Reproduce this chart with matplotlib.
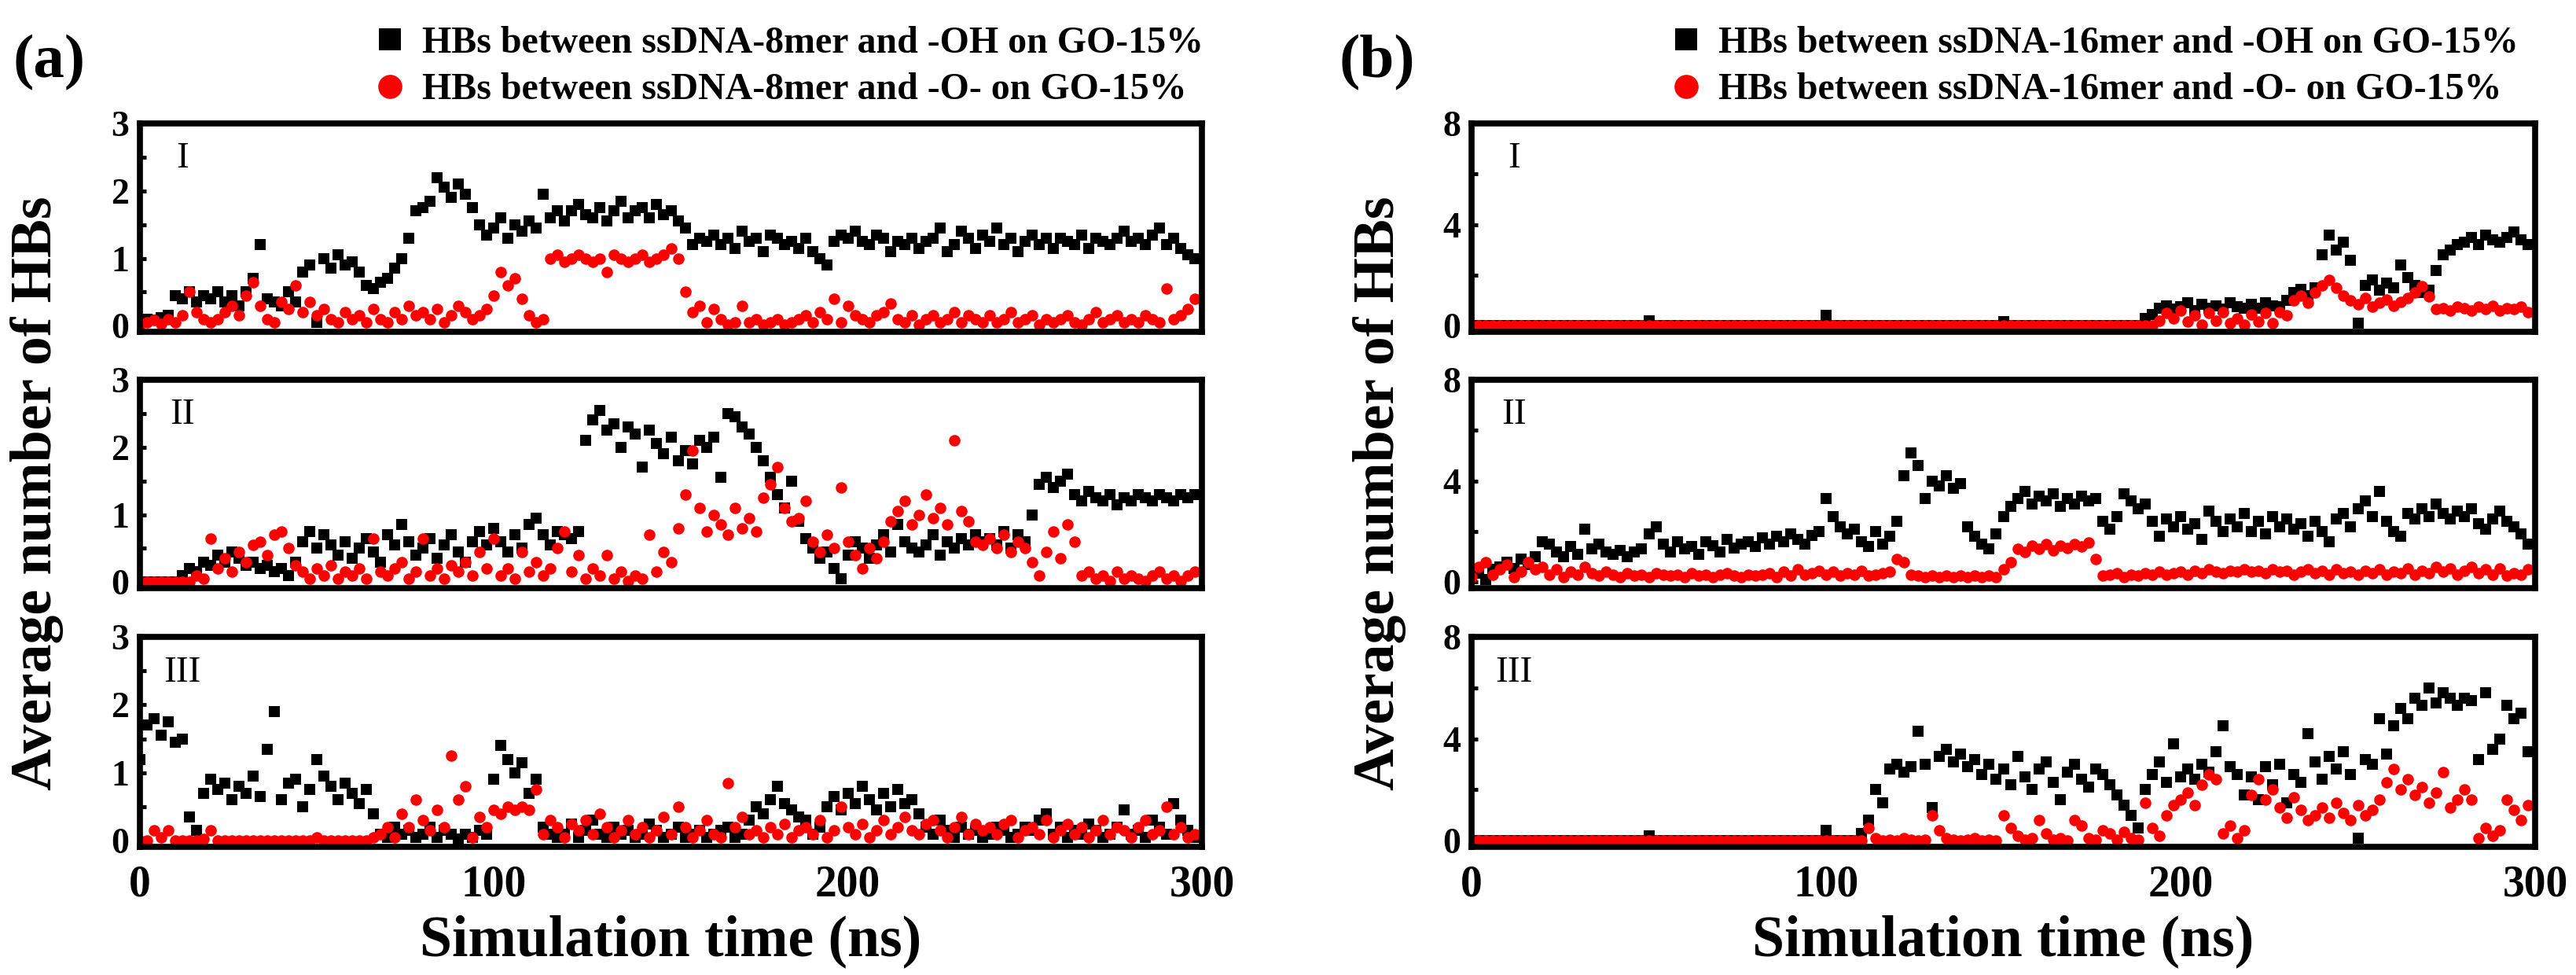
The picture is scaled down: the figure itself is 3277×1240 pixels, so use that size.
import numpy as np
import matplotlib
matplotlib.use("Agg")
import matplotlib.pyplot as plt

plt.rcParams['font.family'] = ['Liberation Serif', 'DejaVu Serif']
plt.rcParams['font.weight'] = 'bold'

# simulation time, one sample every 2 ns
time_ns = np.arange(0, 300, 2)

# ---- (a) ssDNA-8mer ----
a1_oh = [0.05, 0.1, 0.08, 0.12, 0.15, 0.45, 0.4, 0.5, 0.35, 0.45,
         0.4, 0.5, 0.35, 0.45, 0.3, 0.5, 0.7, 1.2, 0.4, 0.35,
         0.3, 0.5, 0.35, 0.8, 0.9, 0.05, 1.0, 0.85, 1.05, 0.9,
         0.95, 0.8, 0.6, 0.55, 0.65, 0.7, 0.85, 1.0, 1.3, 1.7,
         1.75, 1.85, 2.2, 2.05, 1.9, 2.1, 1.95, 1.75, 1.5, 1.35,
         1.45, 1.6, 1.3, 1.5, 1.4, 1.55, 1.45, 1.95, 1.6, 1.7,
         1.55, 1.7, 1.8, 1.65, 1.6, 1.75, 1.55, 1.7, 1.85, 1.6,
         1.7, 1.75, 1.6, 1.8, 1.65, 1.7, 1.55, 1.45, 1.2, 1.3,
         1.25, 1.35, 1.2, 1.3, 1.15, 1.4, 1.25, 1.3, 1.1, 1.35,
         1.3, 1.2, 1.25, 1.15, 1.3, 1.1, 1.0, 0.9, 1.25, 1.35,
         1.3, 1.4, 1.25, 1.2, 1.35, 1.3, 1.1, 1.25, 1.2, 1.3,
         1.15, 1.25, 1.3, 1.45, 1.1, 1.2, 1.4, 1.3, 1.15, 1.35,
         1.25, 1.45, 1.2, 1.3, 1.1, 1.25, 1.35, 1.2, 1.3, 1.15,
         1.3, 1.25, 1.2, 1.35, 1.15, 1.3, 1.25, 1.2, 1.3, 1.4,
         1.25, 1.3, 1.2, 1.35, 1.45, 1.2, 1.3, 1.15, 1.05, 1.0]
a1_o = [0.02, 0.05, 0.08, 0.03, 0.1, 0.05, 0.15, 0.5, 0.2, 0.1,
        0.05, 0.1, 0.2, 0.3, 0.15, 0.45, 0.65, 0.3, 0.1, 0.05,
        0.35, 0.25, 0.6, 0.2, 0.35, 0.15, 0.25, 0.1, 0.05, 0.2,
        0.1, 0.15, 0.05, 0.25, 0.1, 0.05, 0.2, 0.1, 0.3, 0.15,
        0.2, 0.1, 0.25, 0.05, 0.15, 0.3, 0.2, 0.1, 0.15, 0.25,
        0.45, 0.8, 0.6, 0.7, 0.4, 0.15, 0.05, 0.1, 1.0, 1.05,
        0.95, 1.0, 1.05, 1.0, 0.95, 1.0, 0.8, 1.05, 1.0, 0.95,
        1.0, 1.05, 0.95, 1.0, 1.05, 1.15, 1.0, 0.5, 0.2, 0.3,
        0.05, 0.25, 0.1, 0.02, 0.05, 0.3, 0.05, 0.1, 0.02, 0.05,
        0.1, 0.02, 0.05, 0.1, 0.15, 0.05, 0.2, 0.1, 0.4, 0.05,
        0.3, 0.15, 0.1, 0.05, 0.15, 0.2, 0.33, 0.1, 0.05, 0.15,
        0.02, 0.1, 0.15, 0.05, 0.1, 0.2, 0.05, 0.15, 0.1, 0.05,
        0.15, 0.05, 0.1, 0.2, 0.05, 0.1, 0.15, 0.02, 0.1, 0.05,
        0.1, 0.15, 0.05, 0.02, 0.1, 0.2, 0.05, 0.1, 0.15, 0.05,
        0.1, 0.05, 0.15, 0.1, 0.05, 0.55, 0.1, 0.15, 0.25, 0.4]

a2_oh = [0, 0, 0, 0, 0, 0, 0.1, 0.2, 0.15, 0.3,
         0.25, 0.4, 0.3, 0.45, 0.35, 0.25, 0.3, 0.2, 0.25, 0.15,
         0.2, 0.1, 0.3, 0.6, 0.75, 0.5, 0.7, 0.55, 0.4, 0.6,
         0.35, 0.5, 0.65, 0.45, 0.3, 0.7, 0.55, 0.85, 0.6, 0.4,
         0.5, 0.65, 0.35, 0.55, 0.7, 0.45, 0.3, 0.6, 0.75, 0.55,
         0.8, 0.6, 0.45, 0.7, 0.5, 0.85, 0.95, 0.7, 0.55, 0.75,
         0.7, 0.65, 0.75, 2.1, 2.4, 2.55, 2.25, 2.35, 2.0, 2.3,
         2.2, 1.7, 2.25, 2.05, 1.9, 2.15, 1.8, 1.95, 1.75, 2.1,
         2.0, 2.15, 1.55, 2.5, 2.45, 2.3, 2.2, 2.0, 1.8, 1.55,
         1.3, 1.1, 1.5, 0.9, 0.65, 0.5, 0.35, 0.45, 0.2, 0.05,
         0.4, 0.6, 0.5, 0.35, 0.55, 0.7, 0.45, 0.85, 0.6, 0.5,
         0.45, 0.55, 0.7, 0.4, 0.6, 0.5, 0.65, 0.55, 0.7, 0.6,
         0.65, 0.55, 0.75, 0.5, 0.7, 0.6, 1.0, 1.45, 1.55, 1.4,
         1.5, 1.6, 1.3, 1.2, 1.35, 1.25, 1.2, 1.3, 1.15, 1.25,
         1.2, 1.3, 1.25, 1.2, 1.3, 1.25, 1.2, 1.3, 1.25, 1.3]
a2_o = [0, 0, 0, 0, 0, 0, 0, 0, 0.1, 0.05,
        0.65, 0.2, 0.35, 0.15, 0.45, 0.3, 0.55, 0.6, 0.4, 0.7,
        0.75, 0.5, 0.25, 0.15, 0.05, 0.2, 0.1, 0.25, 0.05, 0.15,
        0.1, 0.2, 0.05, 0.65, 0.15, 0.1, 0.2, 0.3, 0.05, 0.15,
        0.65, 0.1, 0.2, 0.05, 0.25, 0.15, 0.3, 0.1, 0.45, 0.2,
        0.65, 0.1, 0.2, 0.05, 0.45, 0.15, 0.3, 0.1, 0.2, 0.5,
        0.75, 0.15, 0.4, 0.05, 0.2, 0.1, 0.4, 0.05, 0.15, 0.02,
        0.1, 0.05, 0.7, 0.15, 0.45, 0.3, 0.8, 1.3, 1.95, 1.1,
        0.75, 1.0, 0.85, 0.7, 1.1, 0.8, 0.95, 0.75, 1.25, 1.45,
        1.7, 1.1, 0.9, 0.95, 1.2, 0.6, 0.45, 0.7, 0.5, 1.4,
        0.6, 0.4, 0.2, 0.5, 0.35, 0.6, 0.9, 1.05, 1.2, 0.85,
        1.0, 1.3, 0.95, 1.1, 0.85, 2.1, 1.05, 0.9, 0.6, 0.55,
        0.65, 0.5, 0.7, 0.45, 0.6, 0.5, 0.3, 0.1, 0.45, 0.75,
        0.35, 0.85, 0.6, 0.1, 0.15, 0.05, 0.1, 0.02, 0.15, 0.05,
        0.1, 0.05, 0.02, 0.1, 0.15, 0.05, 0.1, 0.02, 0.1, 0.15]

a3_oh = [1.2, 1.7, 1.8, 1.55, 1.75, 1.45, 1.5, 0.35, 0.15, 0.7,
         0.9, 0.75, 0.85, 0.6, 0.8, 0.7, 0.95, 0.65, 1.35, 1.9,
         0.6, 0.85, 0.9, 0.5, 0.75, 1.2, 0.95, 0.8, 0.6, 0.85,
         0.7, 0.55, 0.75, 0.4, 0.1, 0.05, 0.2, 0.1, 0.15, 0.05,
         0.1, 0.2, 0.05, 0.15, 0.1, 0.02, 0.1, 0.05, 0.15, 0.1,
         0.9, 1.4, 1.2, 1.0, 1.15, 0.7, 0.9, 0.2, 0.1, 0.05,
         0.1, 0.25, 0.05, 0.15, 0.3, 0.1, 0.05, 0.2, 0.1, 0.15,
         0.05, 0.1, 0.25, 0.15, 0.05, 0.1, 0.2, 0.05, 0.1, 0.15,
         0.05, 0.1, 0.15, 0.2, 0.05, 0.1, 0.3, 0.5, 0.4, 0.6,
         0.8, 0.55, 0.45, 0.35, 0.3, 0.1, 0.2, 0.5, 0.65, 0.45,
         0.7, 0.55, 0.8, 0.6, 0.45, 0.7, 0.5, 0.75, 0.55, 0.6,
         0.4, 0.2, 0.1, 0.3, 0.15, 0.05, 0.2, 0.1, 0.15, 0.05,
         0.1, 0.2, 0.15, 0.05, 0.1, 0.2, 0.15, 0.3, 0.4, 0.1,
         0.2, 0.05, 0.15, 0.1, 0.25, 0.15, 0.05, 0.1, 0.2, 0.45,
         0.1, 0.15, 0.05, 0.3, 0.2, 0.1, 0.55, 0.3, 0.15, 0.05]
a3_o = [0, 0, 0.15, 0.05, 0.15, 0, 0, 0, 0, 0.02,
        0.15, 0, 0, 0, 0, 0, 0, 0, 0, 0,
        0, 0, 0, 0, 0, 0.05, 0, 0, 0, 0,
        0, 0, 0, 0.05, 0.1, 0.2, 0.05, 0.4, 0.2, 0.6,
        0.3, 0.15, 0.45, 0.2, 1.25, 0.6, 0.8, 0.05, 0.35, 0.2,
        0.45, 0.4, 0.5, 0.45, 0.5, 0.45, 0.75, 0.1, 0.3, 0.2,
        0.05, 0.25, 0.15, 0.3, 0.1, 0.4, 0.2, 0.05, 0.15, 0.3,
        0.1, 0.2, 0.05, 0.15, 0.35, 0.1, 0.5, 0.2, 0.05, 0.15,
        0.3, 0.1, 0.05, 0.85, 0.2, 0.35, 0.1, 0.15, 0.05, 0.2,
        0.1, 0.25, 0.05, 0.15, 0.2, 0.1, 0.3, 0.05, 0.15, 0.5,
        0.2, 0.1, 0.25, 0.05, 0.15, 0.3, 0.1, 0.2, 0.35, 0.15,
        0.1, 0.25, 0.3, 0.15, 0.05, 0.2, 0.35, 0.1, 0.25, 0.15,
        0.2, 0.1, 0.25, 0.3, 0.05, 0.15, 0.2, 0.1, 0.3, 0.05,
        0.15, 0.25, 0.1, 0.2, 0.05, 0.15, 0.3, 0.1, 0.2, 0.15,
        0.05, 0.2, 0.3, 0.1, 0.15, 0.5, 0.1, 0.2, 0.05, 0.1]

# ---- (b) ssDNA-16mer ----
b1_oh = ([0.0] * 25 + [0.2] + [0.0] * 24 + [0.4] + [0.0] * 24 + [0.15] + [0.0] * 19 +
         [0.3, 0.45, 0.7, 0.8, 0.65,
          0.75, 0.9, 0.6, 0.85, 0.7, 0.8, 0.65, 0.9, 0.75, 0.7,
          0.85, 0.7, 0.9, 0.8, 0.75, 1.0, 1.3, 1.45, 1.2, 1.5,
          2.8, 3.6, 3.0, 3.3, 2.6, 0.1, 1.6, 1.8, 1.4, 1.7,
          1.5, 2.4, 1.9, 1.6, 1.3, 1.4, 2.2, 2.8, 3.0, 3.2,
          3.3, 3.5, 3.2, 3.6, 3.4, 3.3, 3.5, 3.7, 3.4, 3.2])
b1_o = ([0.0] * 97 +
        [0.2, 0.5, 0.3,
         0.6, 0.15, 0.4, 0.05, 0.5, 0.2, 0.55, 0.1, 0.3, 0.05,
         0.45, 0.15, 0.5, 0.1, 0.55, 0.4, 1.0, 1.2, 0.9, 1.3,
         1.6, 1.8, 1.5, 1.2, 1.0, 0.85, 1.1, 0.75, 0.9, 1.05,
         0.8, 0.95, 1.1, 1.3, 1.55, 1.15, 0.65, 0.7, 0.6, 0.75,
         0.7, 0.6, 0.75, 0.65, 0.8, 0.6, 0.7, 0.65, 0.75, 0.55])

b2_oh = [0.2, 0.35, 0.1, 0.5, 0.6, 0.8, 0.55, 0.9, 0.7, 1.0,
         1.6, 1.5, 1.2, 1.0, 1.4, 1.1, 2.1, 1.3, 1.5, 1.2,
         1.1, 1.25, 1.0, 1.2, 1.3, 1.9, 2.2, 1.5, 1.2, 1.6,
         1.3, 1.4, 1.1, 1.6, 1.45, 1.2, 1.7, 1.35, 1.5, 1.6,
         1.4, 1.75, 1.5, 1.8, 1.6, 1.9, 1.7, 1.5, 1.85, 2.0,
         3.3, 2.6, 2.2, 1.9, 2.1, 1.6, 1.4, 2.0, 1.5, 1.8,
         2.4, 4.2, 5.1, 4.6, 3.3, 4.0, 3.8, 4.2, 3.7, 3.9,
         2.2, 1.8, 1.5, 1.3, 1.9, 2.6, 3.0, 3.3, 3.6, 3.1,
         3.4, 3.2, 3.5, 3.0, 3.3, 3.1, 3.4, 3.2, 3.3, 2.4,
         2.1, 2.6, 3.5, 3.2, 2.9, 3.1, 2.4, 1.8, 2.5, 2.2,
         2.6, 2.1, 2.3, 1.7, 2.8, 2.4, 2.0, 2.5, 2.2, 2.7,
         2.0, 2.4, 1.9, 2.6, 2.2, 2.5, 2.1, 2.3, 1.8, 2.4,
         2.0, 1.6, 2.5, 2.7, 2.2, 2.9, 3.2, 2.6, 3.6, 2.4,
         2.0, 1.8, 2.7, 2.5, 2.9, 2.6, 3.1, 2.7, 2.5, 2.8,
         2.6, 2.9, 2.3, 2.1, 2.5, 2.8, 2.4, 2.2, 1.9, 1.5]
b2_o = [0.2, 0.6, 0.8, 0.3, 0.5, 0.7, 0.2, 0.4, 0.8, 0.5,
        0.6, 0.3, 0.5, 0.2, 0.4, 0.3, 0.6, 0.35, 0.25, 0.4,
        0.3, 0.2, 0.35, 0.25, 0.3, 0.2, 0.35, 0.3, 0.25, 0.3,
        0.2, 0.35, 0.25, 0.3, 0.2, 0.3, 0.35, 0.25, 0.2, 0.3,
        0.25, 0.3, 0.35, 0.2, 0.4, 0.25, 0.5, 0.3, 0.35, 0.45,
        0.3, 0.4, 0.25, 0.35, 0.3, 0.45, 0.25, 0.3, 0.35, 0.4,
        0.9, 0.8, 0.3, 0.25, 0.2, 0.25, 0.2, 0.25, 0.2, 0.25,
        0.2, 0.25, 0.2, 0.25, 0.2, 0.5, 0.8, 1.3, 1.2, 1.45,
        1.3, 1.5, 1.25, 1.45, 1.35, 1.5, 1.4, 1.55, 0.9, 0.25,
        0.3, 0.35, 0.2, 0.3, 0.25, 0.35, 0.3, 0.4, 0.3, 0.35,
        0.4, 0.3, 0.45, 0.35, 0.5, 0.4, 0.35, 0.45, 0.4, 0.5,
        0.4, 0.45, 0.35, 0.5, 0.4, 0.45, 0.3, 0.4, 0.5, 0.35,
        0.45, 0.3, 0.5, 0.35, 0.4, 0.3, 0.45, 0.35, 0.5, 0.3,
        0.4, 0.35, 0.55, 0.3, 0.45, 0.35, 0.6, 0.4, 0.55, 0.3,
        0.45, 0.6, 0.35, 0.5, 0.3, 0.55, 0.25, 0.35, 0.3, 0.5]

b3_oh = ([0.0] * 25 + [0.2] + [0.0] * 24 + [0.4] + [0.0] * 4 + [0.3] +
         [0.8, 2.0, 1.5, 2.8,
          3.0, 2.7, 2.9, 4.3, 3.0, 1.3, 3.3, 3.6, 3.1, 3.4,
          2.9, 3.2, 2.6, 3.0, 2.4, 2.8, 2.2, 3.3, 2.5, 2.0,
          2.8, 3.1, 2.3, 1.6, 2.7, 3.0, 2.4, 2.1, 2.8, 2.6,
          2.2, 1.8, 1.4, 1.0, 0.5, 2.0, 2.6, 3.1, 2.3, 3.8,
          2.5, 2.8, 2.4, 3.0, 2.7, 3.5, 4.5, 2.9, 2.6, 1.8,
          2.5, 1.6, 2.9, 2.2, 3.0, 1.5, 2.6, 2.3, 4.2, 3.1,
          2.4, 3.3, 2.8, 3.5, 2.6, 0.1, 3.2, 3.0, 4.8, 3.4,
          4.5, 5.2, 4.8, 5.6, 5.3, 6.0, 5.4, 5.8, 5.6, 5.3,
          5.6, 5.5, 3.2, 5.8, 3.6, 4.0, 5.3, 4.8, 5.0, 3.5])
b3_o = ([0.0] * 56 +
        [0.5, 0.1, 0.0, 0.05,
         0.0, 0.1, 0.05, 0.0, 0.05, 1.0, 0.4, 0.1, 0.05, 0.0,
         0.05, 0.1, 0.0, 0.05, 0.0, 1.0, 0.5, 0.2, 0.05, 0.1,
         0.8, 0.3, 0.05, 0.1, 0.0, 0.8, 0.6, 0.1, 0.05, 0.4,
         0.3, 0.05, 0.35, 0.1, 0.05, 1.5, 0.5, 0.2, 1.0, 1.4,
         1.6, 1.9, 1.4, 2.2, 2.6, 2.4, 0.3, 0.6, 0.1, 0.4,
         1.8, 2.4, 1.6, 2.0, 1.3, 0.9, 1.7, 1.2, 0.8, 1.0,
         1.3, 0.9, 1.5, 1.1, 0.8, 1.4, 1.0, 1.2, 1.6, 2.3,
         2.8, 2.0, 2.4, 1.8, 2.1, 1.5, 1.9, 2.7, 1.3, 1.6,
         2.0, 1.6, 0.1, 0.5, 0.2, 0.4, 1.6, 1.2, 0.8, 1.4])

roman = ["I", "II", "III"]
legend_a = ["HBs between ssDNA-8mer and -OH on GO-15%",
            "HBs between ssDNA-8mer and -O- on GO-15%"]
legend_b = ["HBs between ssDNA-16mer and -OH on GO-15%",
            "HBs between ssDNA-16mer and -O- on GO-15%"]

W, H = 3277, 1240
fig = plt.figure(figsize=(W / 100, H / 100), dpi=100)

rows = [(157, 422), (483, 748), (810, 1077)]   # top/bottom in px
cols = [(178, 1529), (1872, 3225)]             # left/right in px

panels = [
    dict(series=[(a1_oh, a1_o), (a2_oh, a2_o), (a3_oh, a3_o)], ymax=3,
         major=[0, 1, 2, 3], minor=[0.5, 1.5, 2.5], tag="(a)", legend=legend_a,
         tag_x=63, ylab_x=47, leg_x=484),
    dict(series=[(b1_oh, b1_o), (b2_oh, b2_o), (b3_oh, b3_o)], ymax=8,
         major=[0, 4, 8], minor=[2, 6], tag="(b)", legend=legend_b,
         tag_x=1752, ylab_x=1755, leg_x=2133),
]

for ci, p in enumerate(panels):
    left, right = cols[ci]
    handles = None
    for ri, (oh, o) in enumerate(p["series"]):
        top, bottom = rows[ri]
        ax = fig.add_axes([left / W, 1 - bottom / H, (right - left) / W, (bottom - top) / H])
        assert len(oh) == len(time_ns) and len(o) == len(time_ns)
        h1, = ax.plot(time_ns, oh, 's', color='black', ms=9.5, mew=0, zorder=2)
        h2, = ax.plot(time_ns, o, 'o', color='red', ms=10.5, mew=0, zorder=3)
        handles = [h1, h2]
        ax.set_xlim(0, 300)
        ax.set_ylim(-p["ymax"] * 0.03, p["ymax"])
        ax.set_yticks(p["major"])
        ax.set_yticks(p["minor"], minor=True)
        ax.set_xticks([0, 100, 200, 300])
        ax.tick_params(axis='y', which='both', direction='in', length=6, width=3.5,
                       labelsize=33, pad=10)
        ax.tick_params(axis='x', length=0, labelsize=40, pad=16)
        if ri < 2:
            ax.tick_params(axis='x', labelbottom=False)
        for s in ax.spines.values():
            s.set_linewidth(5.5)
            s.set_zorder(4)
        ax.text(0.04, 0.83, roman[ri], transform=ax.transAxes, ha='center', va='center',
                fontsize=34, fontweight='normal')

    fig.text((left + right) / 2 / W, 1 - 1197 / H, "Simulation time (ns)",
             ha='center', va='center', fontsize=53)
    fig.text(p["ylab_x"] / W, 1 - 627 / H, "Average number of HBs", rotation=90,
             ha='center', va='center', fontsize=53)
    fig.text(p["tag_x"] / W, 1 - 80 / H, p["tag"], ha='center', va='center', fontsize=57)
    fig.legend(handles, p["legend"], loc='upper left',
               bbox_to_anchor=(p["leg_x"] / W, 1 - 33 / H), frameon=False,
               fontsize=34.5, markerscale=2.1, handlelength=0.5, handletextpad=0.6,
               labelspacing=0.32, borderpad=0, borderaxespad=0)

fig.savefig("out.png", dpi=100)
